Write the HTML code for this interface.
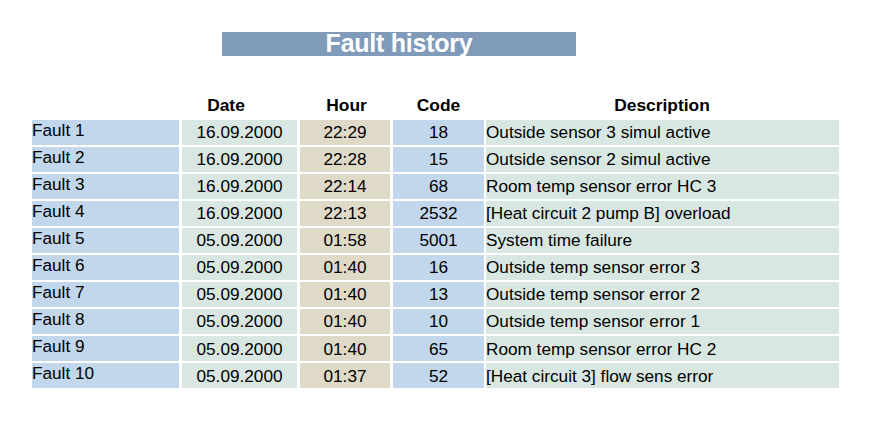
<!DOCTYPE html><html><head><meta charset='utf-8'><style>
*{margin:0;padding:0;box-sizing:border-box}
html,body{width:870px;height:426px;background:#fff;overflow:hidden}
body{position:relative;font-family:"Liberation Sans",sans-serif;color:#000}
.bar{position:absolute;left:222px;top:32px;width:354px;height:24px;background:#7f9bb9}
.ttl{position:absolute;left:222px;top:31px;width:354px;height:24px;color:#fff;font-weight:bold;font-size:25px;letter-spacing:-0.25px;line-height:24px;text-align:center;white-space:nowrap}
.h{position:absolute;top:95px;height:20px;font-weight:bold;font-size:17.4px;line-height:20px;text-align:center;white-space:nowrap}
.c{position:absolute;height:25px;font-size:17.2px;line-height:25px;white-space:nowrap}
.l{text-align:left}
.m{text-align:center}
</style></head><body>
<div class='bar'></div><div class='ttl'>Fault history</div>
<div class='h' style='left:156.0px;width:140px'>Date</div>
<div class='h' style='left:276.5px;width:140px'>Hour</div>
<div class='h' style='left:368.5px;width:140px'>Code</div>
<div class='h' style='left:592.0px;width:140px'>Description</div>
<div class='c l' style='left:32px;top:120px;width:147px;background:#c2d7eb;padding-top:0;line-height:21px;'>Fault 1</div>
<div class='c m' style='left:182px;top:120px;width:115px;background:#d9e7e2;'>16.09.2000</div>
<div class='c m' style='left:300px;top:120px;width:90px;background:#dfd9c7;'>22:29</div>
<div class='c m' style='left:393px;top:120px;width:91px;background:#c2d7eb;'>18</div>
<div class='c l' style='left:486px;top:120px;width:353px;background:#d9e7e2;padding-left:0;'>Outside sensor 3 simul active</div>
<div class='c l' style='left:32px;top:147px;width:147px;background:#c2d7eb;padding-top:0;line-height:21px;'>Fault 2</div>
<div class='c m' style='left:182px;top:147px;width:115px;background:#d9e7e2;'>16.09.2000</div>
<div class='c m' style='left:300px;top:147px;width:90px;background:#dfd9c7;'>22:28</div>
<div class='c m' style='left:393px;top:147px;width:91px;background:#c2d7eb;'>15</div>
<div class='c l' style='left:486px;top:147px;width:353px;background:#d9e7e2;padding-left:0;'>Outside sensor 2 simul active</div>
<div class='c l' style='left:32px;top:174px;width:147px;background:#c2d7eb;padding-top:0;line-height:21px;'>Fault 3</div>
<div class='c m' style='left:182px;top:174px;width:115px;background:#d9e7e2;'>16.09.2000</div>
<div class='c m' style='left:300px;top:174px;width:90px;background:#dfd9c7;'>22:14</div>
<div class='c m' style='left:393px;top:174px;width:91px;background:#c2d7eb;'>68</div>
<div class='c l' style='left:486px;top:174px;width:353px;background:#d9e7e2;padding-left:0;'>Room temp sensor error HC 3</div>
<div class='c l' style='left:32px;top:201px;width:147px;background:#c2d7eb;padding-top:0;line-height:21px;'>Fault 4</div>
<div class='c m' style='left:182px;top:201px;width:115px;background:#d9e7e2;'>16.09.2000</div>
<div class='c m' style='left:300px;top:201px;width:90px;background:#dfd9c7;'>22:13</div>
<div class='c m' style='left:393px;top:201px;width:91px;background:#c2d7eb;'>2532</div>
<div class='c l' style='left:486px;top:201px;width:353px;background:#d9e7e2;padding-left:0;'>[Heat circuit 2 pump B] overload</div>
<div class='c l' style='left:32px;top:228px;width:147px;background:#c2d7eb;padding-top:0;line-height:21px;'>Fault 5</div>
<div class='c m' style='left:182px;top:228px;width:115px;background:#d9e7e2;'>05.09.2000</div>
<div class='c m' style='left:300px;top:228px;width:90px;background:#dfd9c7;'>01:58</div>
<div class='c m' style='left:393px;top:228px;width:91px;background:#c2d7eb;'>5001</div>
<div class='c l' style='left:486px;top:228px;width:353px;background:#d9e7e2;padding-left:0;'>System time failure</div>
<div class='c l' style='left:32px;top:255px;width:147px;background:#c2d7eb;padding-top:0;line-height:21px;'>Fault 6</div>
<div class='c m' style='left:182px;top:255px;width:115px;background:#d9e7e2;'>05.09.2000</div>
<div class='c m' style='left:300px;top:255px;width:90px;background:#dfd9c7;'>01:40</div>
<div class='c m' style='left:393px;top:255px;width:91px;background:#c2d7eb;'>16</div>
<div class='c l' style='left:486px;top:255px;width:353px;background:#d9e7e2;padding-left:0;'>Outside temp sensor error 3</div>
<div class='c l' style='left:32px;top:282px;width:147px;background:#c2d7eb;padding-top:0;line-height:21px;'>Fault 7</div>
<div class='c m' style='left:182px;top:282px;width:115px;background:#d9e7e2;'>05.09.2000</div>
<div class='c m' style='left:300px;top:282px;width:90px;background:#dfd9c7;'>01:40</div>
<div class='c m' style='left:393px;top:282px;width:91px;background:#c2d7eb;'>13</div>
<div class='c l' style='left:486px;top:282px;width:353px;background:#d9e7e2;padding-left:0;'>Outside temp sensor error 2</div>
<div class='c l' style='left:32px;top:309px;width:147px;background:#c2d7eb;padding-top:0;line-height:21px;'>Fault 8</div>
<div class='c m' style='left:182px;top:309px;width:115px;background:#d9e7e2;'>05.09.2000</div>
<div class='c m' style='left:300px;top:309px;width:90px;background:#dfd9c7;'>01:40</div>
<div class='c m' style='left:393px;top:309px;width:91px;background:#c2d7eb;'>10</div>
<div class='c l' style='left:486px;top:309px;width:353px;background:#d9e7e2;padding-left:0;'>Outside temp sensor error 1</div>
<div class='c l' style='left:32px;top:336px;width:147px;background:#c2d7eb;padding-top:0;line-height:21px;'>Fault 9</div>
<div class='c m' style='left:182px;top:336px;width:115px;background:#d9e7e2;padding-top:1px;line-height:24px;'>05.09.2000</div>
<div class='c m' style='left:300px;top:336px;width:90px;background:#dfd9c7;padding-top:1px;line-height:24px;'>01:40</div>
<div class='c m' style='left:393px;top:336px;width:91px;background:#c2d7eb;padding-top:1px;line-height:24px;'>65</div>
<div class='c l' style='left:486px;top:336px;width:353px;background:#d9e7e2;padding-top:1px;line-height:24px;padding-left:0;'>Room temp sensor error HC 2</div>
<div class='c l' style='left:32px;top:363px;width:147px;background:#c2d7eb;padding-top:0;line-height:21px;'>Fault 10</div>
<div class='c m' style='left:182px;top:363px;width:115px;background:#d9e7e2;padding-top:1px;line-height:24px;'>05.09.2000</div>
<div class='c m' style='left:300px;top:363px;width:90px;background:#dfd9c7;padding-top:1px;line-height:24px;'>01:37</div>
<div class='c m' style='left:393px;top:363px;width:91px;background:#c2d7eb;padding-top:1px;line-height:24px;'>52</div>
<div class='c l' style='left:486px;top:363px;width:353px;background:#d9e7e2;padding-top:1px;line-height:24px;padding-left:0;'>[Heat circuit 3] flow sens error</div>
</body></html>
